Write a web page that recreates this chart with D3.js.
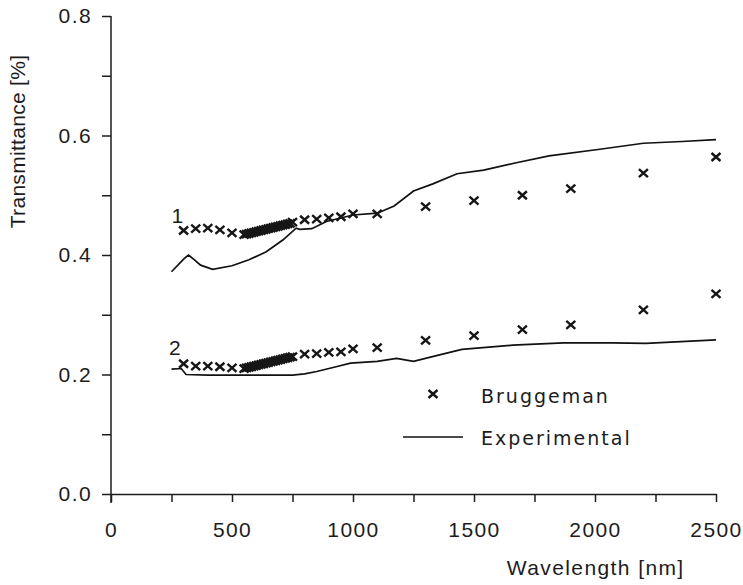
<!DOCTYPE html>
<html>
<head>
<meta charset="utf-8">
<script src="https://cdn.jsdelivr.net/npm/d3@7"></script>
<style>
  body { margin: 0; background: #fff; }
  .axis text { font-family: "Liberation Sans", Arial, sans-serif; font-size: 21px; letter-spacing: 1.4px; fill: #1c1c1c; }
  .axis line, .axis path { stroke: #1c1c1c; stroke-width: 1.5px; }
  .title { font-family: "Liberation Sans", Arial, sans-serif; font-size: 21px; letter-spacing: 1.4px; fill: #1c1c1c; }
  .legend text { font-family: "DejaVu Sans", sans-serif; font-size: 19px; letter-spacing: 2px; fill: #1c1c1c; }
</style>
</head>
<body>
<div class="chart"></div>
<script>
// Bruggeman model points (shared wavelengths)
var brugX = [300, 350, 400, 450, 500,
    550, 560, 570, 580, 590, 600, 610, 620, 630, 640, 650, 660, 670, 680, 690, 700, 710, 720, 730, 740, 750,
    800, 850, 900, 950, 1000, 1100, 1300, 1500, 1700, 1900, 2200, 2500];
var brug1 = [0.441, 0.444, 0.445, 0.442, 0.437,
    0.434, 0.435, 0.436, 0.437, 0.438, 0.439, 0.440, 0.441, 0.442, 0.443, 0.444, 0.445, 0.446, 0.447, 0.448, 0.449, 0.450, 0.451, 0.452, 0.453, 0.455,
    0.459, 0.460, 0.462, 0.464, 0.469, 0.469, 0.481, 0.491, 0.500, 0.511, 0.537, 0.564];
var brug2 = [0.218, 0.214, 0.214, 0.213, 0.211,
    0.210, 0.211, 0.212, 0.213, 0.214, 0.215, 0.216, 0.217, 0.218, 0.219, 0.220, 0.221, 0.222, 0.223, 0.224, 0.225, 0.226, 0.227, 0.228, 0.229, 0.230,
    0.234, 0.235, 0.237, 0.238, 0.243, 0.245, 0.257, 0.265, 0.275, 0.283, 0.308, 0.335];

// Experimental curves
var expX1 = [250, 300, 320, 345, 370, 420, 500, 570, 640, 710, 765, 780, 830, 890, 1000, 1100, 1170, 1250, 1330, 1430, 1540, 1670, 1810, 2020, 2200, 2360, 2500];
var exp1 = [0.372, 0.393, 0.400, 0.392, 0.383, 0.376, 0.382, 0.392, 0.405, 0.425, 0.445, 0.443, 0.444, 0.456, 0.467, 0.470, 0.482, 0.507, 0.519, 0.536, 0.542, 0.554, 0.566, 0.577, 0.587, 0.590, 0.593];
var expX2 = [250, 290, 310, 400, 550, 750, 800, 850, 930, 990, 1100, 1180, 1250, 1320, 1450, 1660, 1870, 2070, 2210, 2500];
var exp2 = [0.209, 0.210, 0.200, 0.199, 0.199, 0.199, 0.201, 0.205, 0.213, 0.219, 0.222, 0.227, 0.222, 0.229, 0.242, 0.249, 0.253, 0.253, 0.252, 0.258];

var xTicks = [0, 500, 1000, 1500, 2000, 2500];
var xMinor = [250, 750, 1250, 1750, 2250];
var yTicks = [0.0, 0.2, 0.4, 0.6, 0.8];
var yMinor = [0.1, 0.3, 0.5, 0.7];

var margin = { top: 16, right: 27, bottom: 91, left: 111 };
var width = 743 - margin.left - margin.right,
    height = 585 - margin.top - margin.bottom;

var svg = d3.select(".chart").append("svg")
    .attr("width", 743)
    .attr("height", 585)
    .append("g")
    .attr("transform", "translate(" + margin.left + "," + margin.top + ")");

var x = d3.scaleLinear().domain([0, 2500]).range([0, width]);
var y = d3.scaleLinear().domain([0, 0.8]).range([height, 0]);

// axes
var xAxis = d3.axisBottom(x).tickValues(xTicks).tickFormat(d3.format("d")).tickSize(8).tickPadding(20).tickSizeOuter(0);
var xAxisMinor = d3.axisBottom(x).tickValues(xMinor).tickFormat("").tickSize(8).tickSizeOuter(0);
var yAxis = d3.axisLeft(y).tickValues(yTicks).tickFormat(d3.format(".1f")).tickSize(9).tickPadding(10).tickSizeOuter(0);
var yAxisMinor = d3.axisLeft(y).tickValues(yMinor).tickFormat("").tickSize(9).tickSizeOuter(0);

svg.append("g").attr("class", "x-axis axis")
    .attr("transform", "translate(0," + height + ")")
    .call(xAxis);
svg.append("g").attr("class", "axis")
    .attr("transform", "translate(0," + height + ")")
    .call(xAxisMinor)
    .select(".domain").remove();
svg.append("g").attr("class", "y-axis axis").call(yAxis)
    .select(".domain").remove();
svg.append("g").attr("class", "axis").call(yAxisMinor)
    .select(".domain").remove();

svg.selectAll(".x-axis .tick text").attr("dy", "0.71em");
svg.selectAll(".y-axis .tick text").attr("dy", "0.33em");

// y axis line runs down past the x axis
svg.append("line")
    .attr("x1", 0).attr("x2", 0)
    .attr("y1", y(0.8)).attr("y2", y(0) + 9)
    .attr("stroke", "#1c1c1c")
    .attr("stroke-width", 1.5);

// experimental lines
var valueline = d3.line()
    .x(function(d) { return x(d[0]); })
    .y(function(d) { return y(d[1]); });

[[expX1, exp1], [expX2, exp2]].forEach(function(s) {
    svg.append("path")
        .datum(d3.zip(s[0], s[1]))
        .attr("fill", "none")
        .attr("stroke", "#111")
        .attr("stroke-width", 1.7)
        .attr("d", valueline);
});

// crosses
function cross(g, cx, cy) {
    g.append("path")
        .attr("d", "M" + (cx - 4.5) + "," + (cy - 4) + "L" + (cx + 4.5) + "," + (cy + 4) +
                   "M" + (cx - 4.5) + "," + (cy + 4) + "L" + (cx + 4.5) + "," + (cy - 4))
        .attr("stroke", "#161616")
        .attr("stroke-width", 2.4)
        .attr("fill", "none");
}

var marks = svg.append("g");
[brug1, brug2].forEach(function(vals) {
    brugX.forEach(function(w, i) {
        cross(marks, x(w), y(vals[i]));
    });
});

// curve labels
svg.append("text").attr("class", "title")
    .attr("x", x(250)).attr("y", y(0.453))
    .text("1");
svg.append("text").attr("class", "title")
    .attr("x", x(240)).attr("y", y(0.233))
    .text("2");

// axis titles
svg.append("text").attr("class", "title")
    .attr("text-anchor", "middle")
    .attr("x", x(2000) + 0.7)
    .attr("y", height + 81)
    .text("Wavelength [nm]");

svg.append("text").attr("class", "title")
    .attr("text-anchor", "middle")
    .style("letter-spacing", "0.3px")
    .attr("transform", "translate(" + (25 - margin.left) + "," + (y(0.59)) + ") rotate(-90)")
    .text("Transmittance [%]");

// legend
var legend = svg.append("g").attr("class", "legend");
cross(legend, 433 - margin.left, 394 - margin.top);
legend.append("text")
    .attr("x", 481 - margin.left).attr("y", 403 - margin.top)
    .text("Bruggeman");
legend.append("line")
    .attr("x1", 403 - margin.left).attr("x2", 463 - margin.left)
    .attr("y1", 437 - margin.top).attr("y2", 437 - margin.top)
    .attr("stroke", "#111").attr("stroke-width", 1.7);
legend.append("text")
    .attr("x", 481 - margin.left).attr("y", 445 - margin.top)
    .text("Experimental");
</script>
</body>
</html>
